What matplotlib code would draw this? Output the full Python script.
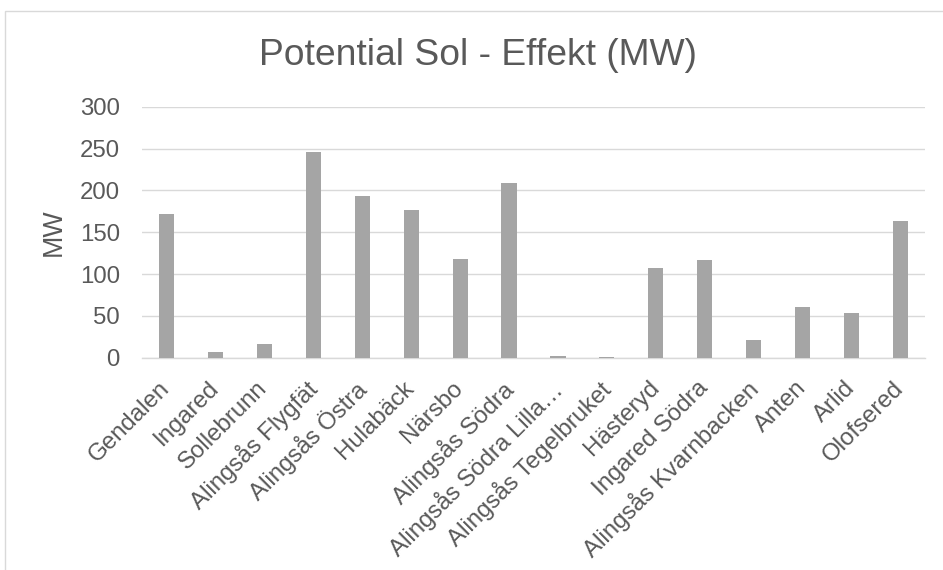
import matplotlib
matplotlib.use("Agg")
import matplotlib.pyplot as plt
from matplotlib.patches import Rectangle
from matplotlib.transforms import ScaledTranslation

# Site names and their estimated solar power potential (MW)
sites = [
    "Gendalen", "Ingared", "Sollebrunn", "Alingsås Flygfät", "Alingsås Östra",
    "Hulabäck", "Närsbo", "Alingsås Södra", "Alingsås Södra Lilla…",
    "Alingsås Tegelbruket", "Hästeryd", "Ingared Södra", "Alingsås Kvarnbacken",
    "Anten", "Arlid", "Olofsered",
]
effekt_mw = [172, 7, 16, 246, 193, 176.5, 117.5, 209, 2.4, 1.2,
             107, 117, 21, 60, 53, 163.5]
y_ticks = [0, 50, 100, 150, 200, 250, 300]

TEXT = "#595959"
BAR = "#A5A5A5"
GRID = "#D9D9D9"
FONT = "Liberation Sans"

W, H = 943, 570
DPI = 100
fig = plt.figure(figsize=(W / DPI, H / DPI), dpi=DPI)
fig.patch.set_facecolor("white")

# Outer chart frame (only left and top edges fall inside the canvas)
fig.patches.append(Rectangle((5 / W, -0.1), 1.2, 1 - 11 / H + 0.1,
                             transform=fig.transFigure, fill=False,
                             edgecolor=GRID, linewidth=1.0))

left, right = 142 / W, 925 / W
bottom, top = 1 - 357.7 / H, 1 - 106.7 / H
ax = fig.add_axes([left, bottom, right - left, top - bottom])

x = list(range(len(sites)))
ax.bar(x, effekt_mw, width=0.31, color=BAR, zorder=3)

ax.set_xlim(-0.5, len(sites) - 0.5)
ax.set_ylim(0, 300)
ax.set_yticks(y_ticks)
ax.set_yticklabels([str(v) for v in y_ticks], fontfamily=FONT,
                   fontsize=17.3, color=TEXT)
ax.yaxis.grid(True, color=GRID, linewidth=1.0, zorder=0)
ax.set_axisbelow(True)

ax.set_xticks(x)
ax.set_xticklabels(sites, rotation=45, ha="right", va="top",
                   rotation_mode="anchor", fontfamily=FONT,
                   fontsize=17.3, color=TEXT)

ax.tick_params(axis="both", length=0)
ax.tick_params(axis="y", pad=16)
ax.tick_params(axis="x", pad=6)

# nudge the slanted category labels slightly left and down
shift = ScaledTranslation(-8 / DPI, -11 / DPI, fig.dpi_scale_trans)
for lbl in ax.get_xticklabels():
    lbl.set_transform(lbl.get_transform() + shift)

for side in ("top", "right", "left"):
    ax.spines[side].set_visible(False)
ax.spines["bottom"].set_color(GRID)
ax.spines["bottom"].set_linewidth(1.0)

ax.set_ylabel("MW", fontfamily=FONT, fontsize=19.3, color=TEXT)
ax.yaxis.set_label_coords((67 - 142) / (925 - 142), 0.5)

fig.text(478 / W, 1 - 55.5 / H, "Potential Sol - Effekt (MW)",
         ha="center", va="center", fontfamily=FONT, fontsize=26.8, color=TEXT)

fig.savefig("out.png", dpi=DPI)
